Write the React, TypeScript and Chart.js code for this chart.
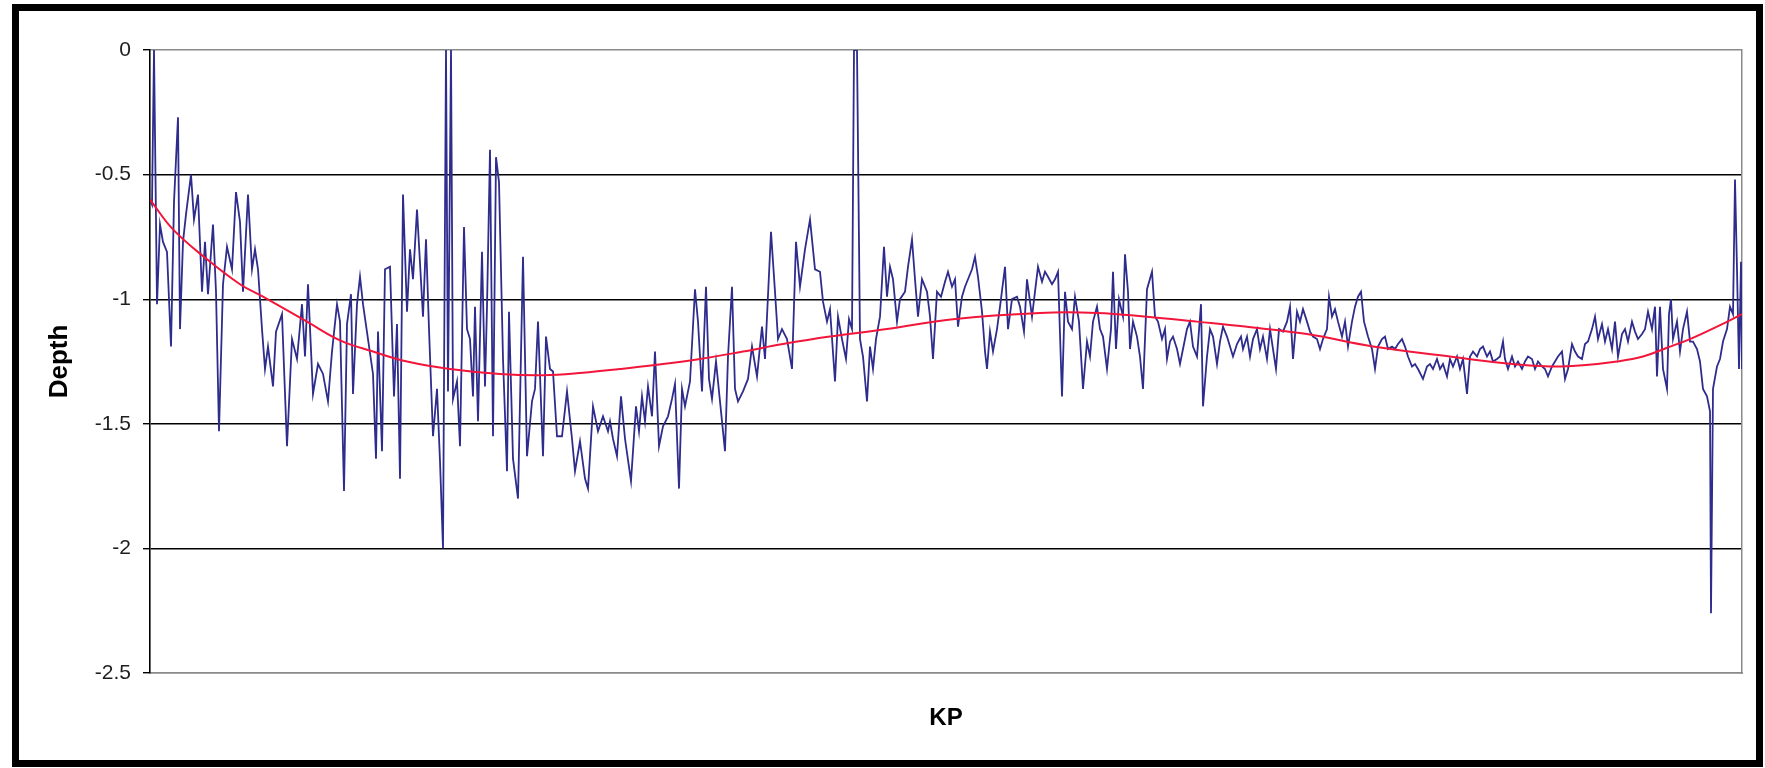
import React, { useEffect, useRef } from "react";
import { Chart, registerables } from "chart.js";

Chart.register(...registerables);

// ---- Survey data: KP (km) and measured depth (m), read section by section ----
const kpA = [
  0.00, 0.02, 0.04, 0.07, 0.10, 0.13, 0.17, 0.21, 0.24, 0.28,
  0.30, 0.33, 0.36, 0.41, 0.44, 0.48, 0.52, 0.55, 0.58, 0.63,
  0.66, 0.69, 0.73, 0.77, 0.82, 0.86, 0.90, 0.93, 0.98, 1.02,
  1.05, 1.08, 1.12, 1.15, 1.18, 1.23, 1.26, 1.32, 1.37, 1.42,
  1.47, 1.52, 1.55, 1.58, 1.63, 1.68, 1.73, 1.78, 1.82, 1.87,
  1.90, 1.94, 1.97, 2.01, 2.03, 2.07, 2.10, 2.13, 2.18, 2.23,
  2.26, 2.28, 2.32, 2.35, 2.40, 2.44, 2.47, 2.50, 2.53,
];
const depthA = [
  -0.60, -0.62, 0.00, -1.02, -0.70, -0.77, -0.81, -1.19, -0.61, -0.27,
  -1.12, -0.77, -0.66, -0.50, -0.68, -0.58, -0.97, -0.77, -0.98, -0.70,
  -0.97, -1.53, -0.94, -0.79, -0.88, -0.57, -0.69, -0.97, -0.58, -0.88,
  -0.80, -0.88, -1.12, -1.28, -1.19, -1.35, -1.13, -1.06, -1.59, -1.16,
  -1.24, -1.02, -1.23, -0.94, -1.38, -1.26, -1.30, -1.41, -1.21, -1.02,
  -1.09, -1.77, -1.10, -0.98, -1.38, -1.02, -0.91, -1.02, -1.16, -1.30,
  -1.64, -1.13, -1.61, -0.88, -0.87, -1.39, -1.10, -1.72, -0.58,
];

const kpB = [
  2.57, 2.60, 2.63, 2.67, 2.73, 2.76, 2.79, 2.83, 2.87, 2.90,
  2.93, 2.96, 2.98, 3.01, 3.03, 3.07, 3.10, 3.14, 3.17, 3.20,
  3.23, 3.25, 3.28, 3.32, 3.35, 3.37, 3.40, 3.43, 3.46, 3.49,
  3.53, 3.57, 3.59, 3.63, 3.68, 3.73, 3.77, 3.82, 3.85, 3.88,
  3.93, 3.96, 4.00, 4.03, 4.07, 4.12, 4.17, 4.22, 4.25, 4.30,
  4.35, 4.38, 4.43, 4.48, 4.53, 4.58,
];
const depthB = [
  -1.05, -0.80, -0.92, -0.64, -1.07, -0.76, -1.12, -1.55, -1.36, -1.65,
  -2.00, 0.00, -1.37, 0.00, -1.40, -1.33, -1.59, -0.71, -1.12, -1.16,
  -1.39, -1.03, -1.49, -0.81, -1.35, -1.03, -0.40, -1.55, -0.43, -0.53,
  -1.24, -1.69, -1.05, -1.64, -1.80, -0.83, -1.63, -1.41, -1.36, -1.09,
  -1.63, -1.15, -1.28, -1.29, -1.55, -1.55, -1.37, -1.56, -1.69, -1.57,
  -1.72, -1.76, -1.43, -1.53, -1.47, -1.53,
];

const kpC = [
  4.60, 4.63, 4.67, 4.71, 4.75, 4.81, 4.86, 4.89, 4.92, 4.95,
  4.98, 5.02, 5.05, 5.09, 5.13, 5.18, 5.22, 5.25, 5.29, 5.32,
  5.35, 5.40, 5.45, 5.48, 5.52, 5.56, 5.59, 5.62, 5.66, 5.70,
  5.75, 5.78, 5.82, 5.85, 5.88, 5.93, 5.98, 6.02, 6.07, 6.12,
  6.15, 6.21, 6.25, 6.28, 6.32, 6.37, 6.42, 6.46, 6.50, 6.55,
  6.60, 6.65,
];
const depthC = [
  -1.49, -1.56, -1.63, -1.39, -1.56, -1.73, -1.43, -1.53, -1.39, -1.49,
  -1.35, -1.47, -1.21, -1.59, -1.51, -1.47, -1.40, -1.34, -1.76, -1.36,
  -1.43, -1.33, -0.96, -1.09, -1.37, -0.95, -1.32, -1.40, -1.25, -1.41,
  -1.61, -1.23, -0.95, -1.36, -1.41, -1.37, -1.32, -1.19, -1.31, -1.11,
  -1.24, -0.73, -0.97, -1.16, -1.12, -1.16, -1.28, -0.77, -0.95, -0.80,
  -0.68, -0.88,
];

const kpD = [
  6.70, 6.73, 6.77, 6.80, 6.85, 6.88, 6.92, 6.96, 6.99, 7.02,
  7.04, 7.07, 7.10, 7.13, 7.17, 7.20, 7.23, 7.26, 7.30, 7.34,
  7.37, 7.40, 7.43, 7.47, 7.50, 7.55, 7.58, 7.62, 7.65, 7.68,
  7.72, 7.77, 7.80, 7.83, 7.87, 7.91, 7.95, 7.98, 8.02, 8.05,
  8.08, 8.12, 8.15, 8.18, 8.22, 8.25, 8.28, 8.32, 8.35, 8.37,
  8.40, 8.43, 8.47, 8.50, 8.55, 8.58, 8.62, 8.67, 8.70, 8.74,
  8.77, 8.82, 8.85, 8.88,
];
const depthD = [
  -0.89, -1.01, -1.09, -1.04, -1.33, -1.07, -1.16, -1.24, -1.08, -1.12,
  0.00, 0.00, -1.16, -1.23, -1.41, -1.19, -1.28, -1.16, -1.07, -0.79,
  -0.99, -0.87, -0.92, -1.09, -1.00, -0.97, -0.87, -0.76, -0.92, -1.07,
  -0.92, -0.97, -1.07, -1.24, -0.97, -0.99, -0.93, -0.89, -0.95, -0.92,
  -1.11, -0.99, -0.95, -0.92, -0.88, -0.83, -0.91, -1.05, -1.21, -1.28,
  -1.13, -1.21, -1.12, -1.03, -0.87, -1.12, -1.00, -0.99, -1.03, -1.13,
  -0.92, -1.07, -0.97, -0.87,
];

const kpE = [
  8.92, 8.95, 8.98, 9.02, 9.05, 9.08, 9.12, 9.15, 9.18, 9.22,
  9.25, 9.29, 9.33, 9.37, 9.40, 9.43, 9.47, 9.50, 9.53, 9.57,
  9.61, 9.63, 9.66, 9.69, 9.73, 9.75, 9.78, 9.80, 9.83, 9.87,
  9.90, 9.93, 9.97, 10.02, 10.05, 10.08, 10.12, 10.15, 10.17, 10.20,
  10.23, 10.27, 10.30, 10.33, 10.37, 10.40, 10.43, 10.47, 10.51, 10.53,
  10.57, 10.60, 10.63, 10.67, 10.70, 10.73, 10.77, 10.80, 10.83, 10.87,
  10.91,
];
const depthE = [
  -0.93, -0.89, -0.91, -0.94, -0.92, -0.89, -1.39, -0.97, -1.09, -1.12,
  -0.99, -1.09, -1.36, -1.17, -1.23, -1.09, -1.03, -1.12, -1.15, -1.28,
  -1.12, -0.89, -1.20, -1.00, -1.07, -0.82, -0.97, -1.20, -1.09, -1.15,
  -1.23, -1.36, -0.96, -0.89, -1.07, -1.09, -1.16, -1.12, -1.24, -1.17,
  -1.15, -1.20, -1.26, -1.20, -1.12, -1.09, -1.19, -1.23, -1.02, -1.43,
  -1.23, -1.12, -1.15, -1.26, -1.17, -1.11, -1.15, -1.19, -1.23, -1.18,
  -1.15,
];

const kpF = [
  10.93, 10.97, 11.00, 11.03, 11.07, 11.10, 11.13, 11.17, 11.20, 11.23,
  11.26, 11.29, 11.33, 11.37, 11.40, 11.43, 11.47, 11.50, 11.53, 11.57,
  11.60, 11.63, 11.67, 11.70, 11.73, 11.77, 11.79, 11.82, 11.85, 11.88,
  11.92, 11.95, 11.98, 12.02, 12.05, 12.08, 12.11, 12.14, 12.18, 12.22,
  12.25, 12.28, 12.32, 12.35, 12.38, 12.42, 12.45, 12.48, 12.52, 12.55,
  12.58, 12.62, 12.65, 12.68, 12.73, 12.77, 12.80, 12.83, 12.87, 12.90,
  12.93, 12.97, 13.00,
];
const depthF = [
  -1.20, -1.15, -1.23, -1.16, -1.12, -1.20, -1.15, -1.24, -1.12, -1.20,
  -1.28, -1.12, -1.13, -1.09, -1.03, -1.24, -1.05, -1.09, -1.04, -1.09,
  -1.13, -1.15, -1.16, -1.20, -1.16, -1.12, -0.99, -1.07, -1.04, -1.09,
  -1.15, -1.09, -1.19, -1.09, -1.03, -0.99, -0.97, -1.09, -1.15, -1.20,
  -1.28, -1.19, -1.16, -1.15, -1.20, -1.19, -1.20, -1.18, -1.16, -1.19,
  -1.23, -1.27, -1.26, -1.28, -1.32, -1.27, -1.26, -1.28, -1.24, -1.28,
  -1.26, -1.31, -1.24,
];

const kpG = [
  13.03, 13.07, 13.10, 13.13, 13.17, 13.20, 13.23, 13.27, 13.30, 13.33,
  13.37, 13.40, 13.43, 13.47, 13.50, 13.53, 13.55, 13.58, 13.62, 13.65,
  13.68, 13.72, 13.75, 13.78, 13.82, 13.85, 13.88, 13.92, 13.95, 13.98,
  14.02, 14.05, 14.08, 14.12, 14.15, 14.18, 14.22, 14.25, 14.28, 14.32,
  14.35, 14.38, 14.42, 14.45, 14.48, 14.52, 14.55, 14.58, 14.62, 14.65,
  14.68, 14.72, 14.75, 14.78, 14.82, 14.85, 14.88, 14.92, 14.95, 14.98,
  15.02, 15.05, 15.07, 15.10, 15.13, 15.17, 15.19, 15.21, 15.23, 15.27,
  15.30, 15.33, 15.37, 15.40, 15.43, 15.47, 15.50, 15.53, 15.57, 15.60,
  15.61, 15.63, 15.67, 15.70, 15.73, 15.77, 15.80, 15.83, 15.85, 15.87,
  15.89, 15.91, 15.92,
];
const depthG = [
  -1.27, -1.23, -1.28, -1.24, -1.38, -1.23, -1.21, -1.23, -1.20, -1.19,
  -1.23, -1.21, -1.25, -1.24, -1.23, -1.17, -1.24, -1.28, -1.23, -1.27,
  -1.25, -1.28, -1.25, -1.23, -1.24, -1.28, -1.25, -1.27, -1.28, -1.31,
  -1.27, -1.25, -1.23, -1.21, -1.32, -1.28, -1.18, -1.21, -1.23, -1.24,
  -1.18, -1.17, -1.12, -1.07, -1.16, -1.10, -1.17, -1.12, -1.20, -1.09,
  -1.23, -1.14, -1.12, -1.17, -1.09, -1.13, -1.16, -1.14, -1.12, -1.05,
  -1.12, -1.03, -1.31, -1.03, -1.28, -1.36, -1.06, -1.00, -1.16, -1.09,
  -1.21, -1.12, -1.05, -1.17, -1.17, -1.20, -1.25, -1.36, -1.39, -1.45,
  -2.26, -1.36, -1.27, -1.24, -1.17, -1.12, -1.03, -1.06, -0.52, -0.88,
  -1.28, -0.85, -1.28,
];

// ---- Polynomial trend line ----
const kpTrend = [
  0.00, 0.23, 0.57, 0.90, 1.13, 1.57, 1.90, 2.23, 2.57, 3.00,
  3.50, 3.93, 4.33, 4.70, 5.03, 5.50, 5.93, 6.33, 6.80, 7.37,
  8.03, 8.90, 9.47, 9.97, 10.47, 10.95, 11.57, 12.23, 13.00, 13.50,
  14.00, 14.33, 14.67, 14.93, 15.17, 15.40, 15.67, 15.92,
];
const depthTrend = [
  -0.60, -0.72, -0.84, -0.94, -0.99, -1.09, -1.165, -1.21, -1.25, -1.28,
  -1.30, -1.305, -1.295, -1.28, -1.265, -1.24, -1.21, -1.18, -1.15, -1.12,
  -1.08, -1.055, -1.055, -1.07, -1.09, -1.11, -1.14, -1.19, -1.23, -1.255,
  -1.27, -1.265, -1.25, -1.23, -1.195, -1.16, -1.11, -1.06,
];

const yMin = -2.5;
const yMax = 0;
const yStep = 0.5;
const kpMax = 15.92;

const FONT = "'Liberation Sans', Arial, Helvetica, sans-serif";

export default function App() {
  const canvasRef = useRef<HTMLCanvasElement | null>(null);

  useEffect(() => {
    const canvas = canvasRef.current;
    if (!canvas) return;
    const kp = [...kpA, ...kpB, ...kpC, ...kpD, ...kpE, ...kpF, ...kpG];
    const depth = [...depthA, ...depthB, ...depthC, ...depthD, ...depthE, ...depthF, ...depthG];
    const survey = kp.map((x, i) => ({ x, y: depth[i] }));
    const trend = kpTrend.map((x, i) => ({ x, y: depthTrend[i] }));

    const chart = new Chart(canvas, {
      type: "line",
      data: {
        datasets: [
          {
            label: "Trend",
            data: trend,
            borderColor: "#f2163a",
            borderWidth: 2,
            pointRadius: 0,
            tension: 0.4,
            fill: false,
            order: 0,
          },
          {
            label: "Depth",
            data: survey,
            borderColor: "#2e2c8c",
            borderWidth: 1.8,
            pointRadius: 0,
            tension: 0,
            fill: false,
            order: 1,
          },
        ],
      },
      options: {
        responsive: false,
        animation: false,
        devicePixelRatio: 1,
        layout: { padding: { left: 44, top: 50, right: 23, bottom: 35 } },
        plugins: {
          legend: { display: false },
          tooltip: { enabled: false },
          title: { display: false },
        },
        scales: {
          x: {
            type: "linear",
            min: 0,
            max: kpMax,
            ticks: { display: false },
            grid: { display: false, drawTicks: false },
            border: { display: true, color: "#8a8a8a", width: 1.5 },
            title: {
              display: true,
              text: "KP",
              color: "#000",
              font: { family: FONT, size: 24, weight: "bold" },
              padding: 0,
            },
            afterFit: (s: any) => {
              s.height = 60;
            },
          },
          y: {
            type: "linear",
            min: yMin,
            max: yMax,
            ticks: {
              stepSize: yStep,
              color: "#1e1e1e",
              font: { family: FONT, size: 21 },
              padding: 12,
              callback: (v: any) => String(Number(v)),
            },
            grid: {
              color: (ctx: any) =>
                ctx.tick && (ctx.tick.value === yMax || ctx.tick.value === yMin) ? "#8a8a8a" : "#000",
              lineWidth: 1.4,
              tickLength: 7,
              tickColor: "#000",
              tickWidth: 1.4,
            },
            border: { display: true, color: "#000", width: 1.6 },
            title: {
              display: true,
              text: "Depth",
              color: "#000",
              font: { family: FONT, size: 26, weight: "bold" },
              padding: 0,
            },
            afterFit: (s: any) => {
              s.width = 106;
            },
          },
          yRight: {
            type: "linear",
            position: "right",
            min: yMin,
            max: yMax,
            ticks: { display: false },
            grid: { display: false, drawTicks: false },
            border: { display: true, color: "#8a8a8a", width: 1.5 },
            afterFit: (s: any) => {
              s.width = 0;
            },
          },
        },
      },
    } as any);

    return () => chart.destroy();
  }, []);

  return (
    <div
      style={{
        position: "fixed",
        left: 0,
        top: 0,
        width: 1765,
        height: 768,
        background: "#fff",
        overflow: "hidden",
      }}
    >
      <div
        style={{
          position: "absolute",
          left: 12,
          top: 4,
          width: 1751,
          height: 763,
          boxSizing: "border-box",
          border: "7px solid #000",
          background: "#fff",
        }}
      />
      <canvas
        ref={canvasRef}
        width={1765}
        height={768}
        style={{ position: "absolute", left: 0, top: 0, width: 1765, height: 768 }}
      />
    </div>
  );
}
